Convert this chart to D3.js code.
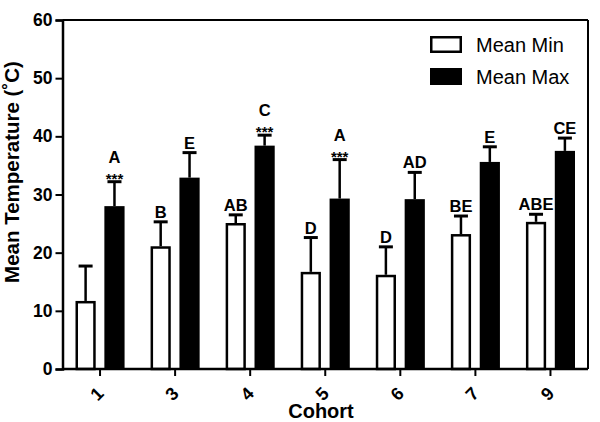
<!DOCTYPE html>
<html><head><meta charset="utf-8">
<script src="https://cdn.jsdelivr.net/npm/d3@7"></script>
<style>body{margin:0;background:#fff}svg{display:block;font-family:"Liberation Sans",Arial,sans-serif}</style>
</head><body><svg id="c" width="600" height="422"></svg>
<script>
const cohorts = ["1","3","4","5","6","7","9"];
const seriesNames = ["Mean Min","Mean Max"];
const meanMin = [11.7, 21.1, 25.1, 16.7, 16.2, 23.2, 25.3];
const errMin  = [17.7, 25.3, 26.5, 22.6, 21.0, 26.3, 26.6];
const meanMax = [28.0, 32.9, 38.4, 29.3, 29.2, 35.6, 37.5];
const errMax  = [32.2, 37.2, 40.2, 36.0, 33.8, 38.2, 39.7];
const lettersMin = ["", "B", "AB", "D", "D", "BE", "ABE"];
const lettersMax = ["A", "E", "C", "A", "AD", "E", "CE"];
const starsMax = ["***", "", "***", "***", "", "", ""];
const yTicks = [0,10,20,30,40,50,60];

const svg = d3.select("#c");
const L = 62.5, R = 588, T = 20, B = 369;
const y = d3.scaleLinear().domain([0,60]).range([B,T]);
const x0 = d3.scaleBand().domain(cohorts).range([L,R]).padding(0);
const x1 = d3.scaleBand().domain(seriesNames).range([13, x0.bandwidth()-13]).paddingInner(0.3);

const data = cohorts.map((c,i)=>[
  {c, s:"Mean Min", v:meanMin[i], e:errMin[i], lab:lettersMin[i], st:""},
  {c, s:"Mean Max", v:meanMax[i], e:errMax[i], lab:lettersMax[i], st:starsMax[i]}
]).flat();

// frame top/right
svg.append("line").attr("x1",L).attr("x2",R).attr("y1",T).attr("y2",T).attr("stroke","#000").attr("stroke-width",2);
svg.append("line").attr("x1",R).attr("x2",R).attr("y1",T).attr("y2",B).attr("stroke","#000").attr("stroke-width",2);

// error bars
const cap = 14;
const g = svg.append("g");
data.forEach(d=>{
  const cx = x0(d.c)+x1(d.s)+x1.bandwidth()/2;
  g.append("line").attr("x1",cx).attr("x2",cx).attr("y1",y(d.v)).attr("y2",y(d.e)).attr("stroke","#000").attr("stroke-width",2.5);
  g.append("line").attr("x1",cx-cap/2).attr("x2",cx+cap/2).attr("y1",y(d.e)).attr("y2",y(d.e)).attr("stroke","#000").attr("stroke-width",3);
});
// bars
data.forEach(d=>{
  const isMin = d.s==="Mean Min";
  g.append("rect")
   .attr("x",x0(d.c)+x1(d.s)+(isMin?1.25:0))
   .attr("width",x1.bandwidth()-(isMin?2.5:0))
   .attr("y",y(d.v)+(isMin?1.25:0))
   .attr("height",y(0)-y(d.v)-(isMin?1.25:0))
   .attr("fill",isMin?"#fff":"#000")
   .attr("stroke","#000").attr("stroke-width",isMin?2.5:0);
});
// annotations
data.forEach(d=>{
  const cx = x0(d.c)+x1(d.s)+x1.bandwidth()/2;
  const ye = y(d.e);
  if (d.st) {
    g.append("text").attr("x",cx).attr("y",ye+2).attr("text-anchor","middle")
     .attr("font-size",15).attr("font-weight","bold").text(d.st);
    g.append("text").attr("x",cx).attr("y",ye-19).attr("text-anchor","middle")
     .attr("font-size",16.5).attr("font-weight","bold").text(d.lab);
  } else if (d.lab) {
    g.append("text").attr("x",cx).attr("y",ye-4).attr("text-anchor","middle")
     .attr("font-size",16.5).attr("font-weight","bold").text(d.lab);
  }
});

// y axis
const ya = svg.append("g").attr("transform",`translate(${L},0)`)
  .call(d3.axisLeft(y).tickValues(yTicks).tickSize(7).tickPadding(3));
ya.select(".domain").attr("stroke-width",2.5);
ya.selectAll(".tick line").attr("stroke-width",2);
ya.selectAll("text").attr("font-size",17.5).attr("font-weight","bold").attr("fill","#000")
  .attr("font-family","Liberation Sans, Arial, sans-serif");

// x axis
const xa = svg.append("g").attr("transform",`translate(0,${B})`)
  .call(d3.axisBottom(x0).tickSize(7).tickPadding(0).tickSizeOuter(0));
xa.select(".domain").attr("stroke-width",2.5).attr("d",`M${L},0H${R}`);
xa.selectAll(".tick line").attr("stroke-width",2);
xa.selectAll("text").attr("font-size",18).attr("font-weight","bold").attr("fill","#000")
  .attr("font-family","Liberation Sans, Arial, sans-serif")
  .attr("dy",null).attr("y",0)
  .attr("text-anchor","middle").attr("dominant-baseline","central")
  .attr("transform","translate(-3,25) rotate(-45)");

// axis titles
svg.append("text").attr("transform","translate(19,172) rotate(-90)").attr("text-anchor","middle")
  .attr("font-size",20.5).attr("font-weight","bold").text("Mean Temperature (˚C)");
svg.append("text").attr("x",321).attr("y",418).attr("text-anchor","middle")
  .attr("font-size",20).attr("font-weight","bold").text("Cohort");

// legend
const lg = svg.append("g");
seriesNames.forEach((s,i)=>{
  const yy = 36 + i*32;
  if (i===0) lg.append("rect").attr("x",431.25).attr("y",yy+1.25).attr("width",29.5).attr("height",14.5).attr("fill","#fff").attr("stroke","#000").attr("stroke-width",2.5);
  else lg.append("rect").attr("x",430).attr("y",yy).attr("width",32).attr("height",17).attr("fill","#000");
  lg.append("text").attr("x",476).attr("y",yy+16).attr("font-size",20).text(s);
});
</script></body></html>
